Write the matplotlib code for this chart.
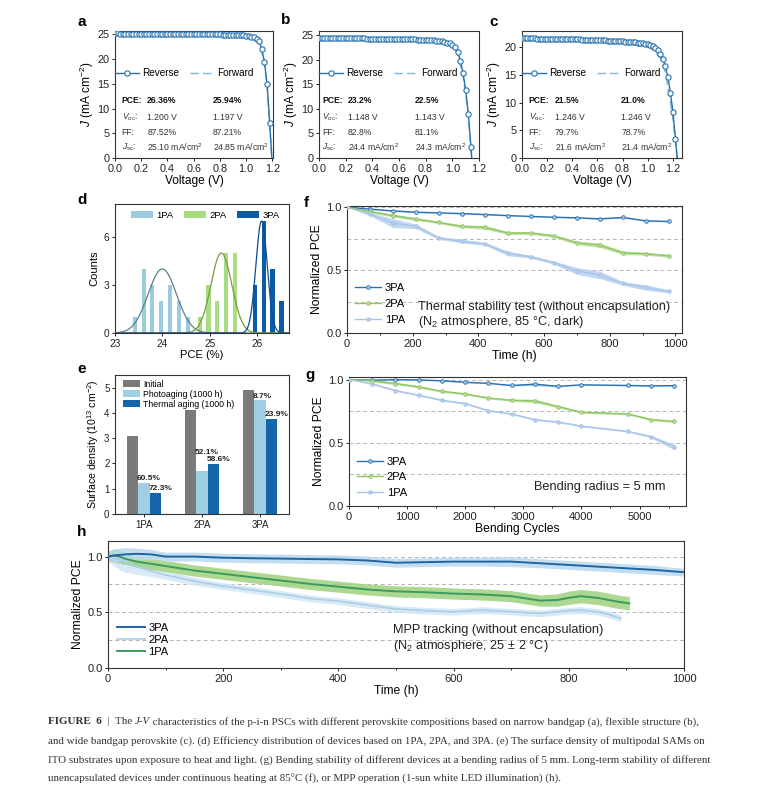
import numpy as np
import matplotlib
matplotlib.use("Agg")
import matplotlib.pyplot as plt
from matplotlib.ticker import AutoMinorLocator

plt.rcParams['font.family'] = ['Liberation Sans', 'DejaVu Sans']
plt.rcParams['mathtext.fontset'] = 'custom'
plt.rcParams['mathtext.rm'] = 'Liberation Sans'
plt.rcParams['mathtext.it'] = 'Liberation Sans:italic'
plt.rcParams['mathtext.bf'] = 'Liberation Sans:bold'
plt.rcParams['axes.linewidth'] = 0.8
plt.rcParams['axes.edgecolor'] = '#333333'

# ---------------- data ----------------
# J-V curves (reverse scans on a 0.02 V grid)
V_a = np.linspace(0, 1.20, 61)
J_a_rev = [25.20, 25.20, 25.19, 25.19, 25.18, 25.18, 25.18, 25.17, 25.17, 25.17, 25.16,
           25.16, 25.16, 25.15, 25.15, 25.15, 25.14, 25.14, 25.14, 25.13, 25.13,
           25.13, 25.12, 25.12, 25.12, 25.11, 25.11, 25.10, 25.10, 25.09, 25.09,
           25.08, 25.08, 25.07, 25.06, 25.05, 25.04, 25.03, 25.02, 25.01, 25.00,
           24.98, 24.97, 24.95, 24.93, 24.91, 24.89, 24.86, 24.83, 24.79, 24.74,
           24.66, 24.55, 24.40, 24.10, 23.60, 22.00, 19.40, 15.00, 7.00, -1.50]
V_a_fwd = [0, 0.2, 0.4, 0.6, 0.8, 0.9, 1.0, 1.04, 1.08, 1.10, 1.12, 1.14, 1.16, 1.18, 1.20]
J_a_fwd = [24.9, 24.88, 24.85, 24.8, 24.7, 24.6, 24.4, 24.1, 23.6, 23.0, 21.4, 18.9, 14.5, 6.5, -2.0]

V_b = np.linspace(0, 1.16, 59)
J_b_rev = [24.45, 24.44, 24.43, 24.42, 24.41, 24.40, 24.39, 24.38, 24.37, 24.36, 24.35,
           24.34, 24.33, 24.32, 24.31, 24.30, 24.29, 24.28, 24.27, 24.26, 24.25,
           24.24, 24.23, 24.22, 24.21, 24.20, 24.19, 24.18, 24.17, 24.16, 24.15,
           24.14, 24.13, 24.12, 24.11, 24.10, 24.08, 24.06, 24.04, 24.02, 24.00,
           23.96, 23.92, 23.88, 23.83, 23.76, 23.68, 23.58, 23.45, 23.28, 23.05,
           22.60, 21.50, 19.80, 17.30, 13.80, 9.00, 2.20, -6.00]
V_b_fwd = [0, 0.2, 0.4, 0.6, 0.8, 0.9, 1.0, 1.04, 1.08, 1.10, 1.12, 1.14, 1.16]
J_b_fwd = [24.3, 24.2, 24.1, 24.0, 23.8, 23.5, 22.8, 21.2, 16.6, 13.0, 8.2, 1.5, -6.0]

V_c = np.linspace(0, 1.24, 63)
J_c_rev = [21.60, 21.59, 21.58, 21.57, 21.56, 21.55, 21.54, 21.53, 21.52, 21.51, 21.50,
           21.49, 21.48, 21.47, 21.46, 21.45, 21.44, 21.43, 21.42, 21.41, 21.40,
           21.39, 21.38, 21.37, 21.36, 21.34, 21.33, 21.31, 21.30, 21.28, 21.26,
           21.24, 21.22, 21.20, 21.18, 21.16, 21.14, 21.12, 21.09, 21.06, 21.03,
           21.00, 20.97, 20.93, 20.89, 20.85, 20.80, 20.75, 20.69, 20.62, 20.55,
           20.40, 20.20, 19.90, 19.40, 18.70, 17.80, 16.50, 14.60, 11.80, 8.30, 3.50, -1.50]
V_c_fwd = [0, 0.2, 0.4, 0.6, 0.8, 0.9, 1.0, 1.05, 1.10, 1.14, 1.18, 1.20, 1.22, 1.24]
J_c_fwd = [21.4, 21.3, 21.2, 21.0, 20.7, 20.4, 20.0, 19.4, 18.0, 15.5, 10.0, 7.0, 3.0, -2.0]

jv_rows = ['PCE:', r'$V_{\mathrm{oc}}$:', 'FF:', r'$J_{\mathrm{sc}}$:']
jv_rev_a = ['26.36%', '1.200 V', '87.52%', r'25.10 mA/cm$^2$']
jv_fwd_a = ['25.94%', '1.197 V', '87.21%', r'24.85 mA/cm$^2$']
jv_rev_b = ['23.2%', '1.148 V', '82.8%', r'24.4 mA/cm$^2$']
jv_fwd_b = ['22.5%', '1.143 V', '81.1%', r'24.3 mA/cm$^2$']
jv_rev_c = ['21.5%', '1.246 V', '79.7%', r'21.6 mA/cm$^2$']
jv_fwd_c = ['21.0%', '1.246 V', '78.7%', r'21.4 mA/cm$^2$']

# (d) PCE histogram
pce_1pa = [23.42, 23.61, 23.79, 23.98, 24.17, 24.36, 24.55]
cnt_1pa = [1, 4, 3, 2, 3, 2, 1]
pce_2pa = [24.79, 24.98, 25.16, 25.35, 25.54]
cnt_2pa = [1, 3, 2, 5, 5]
pce_3pa = [25.96, 26.15, 26.33, 26.52]
cnt_3pa = [3, 7, 4, 2]
# gaussian fits: centre, sigma, peak
fit_1pa = (24.0, 0.30, 4.0)
fit_2pa = (25.25, 0.22, 5.0)
fit_3pa = (26.10, 0.12, 7.0)

# (e) surface density
sam_groups = ['1PA', '2PA', '3PA']
dens_initial = [3.10, 4.12, 4.92]
dens_photo = [1.22, 1.70, 4.50]
dens_thermal = [0.85, 1.97, 3.75]
loss_photo = ['60.5%', '52.1%', '8.7%']
loss_thermal = ['72.3%', '58.6%', '23.9%']

# (f) thermal stability
t_f = [0, 70, 140, 210, 280, 350, 420, 490, 560, 630, 700, 770, 840, 910, 980]
f_3pa = [1.0, 0.985, 0.971, 0.961, 0.955, 0.950, 0.942, 0.934, 0.927, 0.921, 0.916, 0.908, 0.919, 0.892, 0.887]
f_2pa = [1.0, 0.965, 0.934, 0.906, 0.879, 0.848, 0.840, 0.795, 0.795, 0.772, 0.717, 0.698, 0.638, 0.630, 0.614]
f_1pa = [1.0, 0.945, 0.874, 0.848, 0.756, 0.730, 0.709, 0.633, 0.606, 0.559, 0.493, 0.462, 0.394, 0.362, 0.331]
f_3pa_err = [0, 0.004, 0.005, 0.005, 0.004, 0.005, 0.004, 0.005, 0.004, 0.004, 0.005, 0.005, 0.006, 0.005, 0.005]
f_2pa_err = [0, 0.01, 0.012, 0.012, 0.01, 0.012, 0.015, 0.012, 0.012, 0.012, 0.015, 0.018, 0.015, 0.012, 0.012]
f_1pa_err = [0, 0.012, 0.035, 0.018, 0.012, 0.015, 0.012, 0.018, 0.012, 0.012, 0.028, 0.03, 0.015, 0.022, 0.012]

# (g) bending stability
n_g = [0, 400, 800, 1200, 1600, 2000, 2400, 2800, 3200, 3600, 4000, 4800, 5200, 5600]
g_3pa = [1.0, 0.995, 0.999, 0.997, 0.990, 0.978, 0.970, 0.953, 0.963, 0.946, 0.958, 0.953, 0.950, 0.952]
g_2pa = [1.0, 0.990, 0.968, 0.942, 0.907, 0.886, 0.854, 0.836, 0.831, 0.786, 0.741, 0.728, 0.683, 0.669]
g_1pa = [1.0, 0.966, 0.913, 0.876, 0.836, 0.810, 0.754, 0.728, 0.683, 0.664, 0.632, 0.590, 0.548, 0.466]
g_3pa_err = [0, 0.003, 0.003, 0.003, 0.003, 0.004, 0.004, 0.004, 0.012, 0.004, 0.004, 0.004, 0.004, 0.004]
g_2pa_err = [0, 0.008, 0.01, 0.008, 0.008, 0.008, 0.008, 0.008, 0.015, 0.01, 0.008, 0.008, 0.008, 0.01]
g_1pa_err = [0, 0.006, 0.006, 0.006, 0.006, 0.006, 0.006, 0.006, 0.006, 0.006, 0.006, 0.006, 0.01, 0.022]

# (h) MPP tracking (smoothed traces with spread)
t_h3 = [0, 10, 20, 30, 50, 75, 100, 150, 200, 250, 300, 350, 400, 450, 500, 550, 600, 650, 700, 750,
        800, 850, 900, 950, 1000]
h_3pa = [1.0, 1.01, 1.015, 1.02, 1.025, 1.02, 1.0, 1.0, 0.99, 0.985, 0.982, 0.978, 0.975, 0.965, 0.945,
         0.95, 0.955, 0.955, 0.955, 0.94, 0.925, 0.91, 0.895, 0.88, 0.86]
h_3pa_err = [0.05, 0.06, 0.06, 0.06, 0.05, 0.045, 0.04, 0.04, 0.04, 0.04, 0.04, 0.04, 0.04, 0.04, 0.04,
             0.04, 0.04, 0.04, 0.045, 0.04, 0.04, 0.04, 0.04, 0.04, 0.035]
t_h1 = [0, 10, 20, 30, 50, 75, 100, 150, 200, 250, 300, 350, 400, 450, 500, 550, 600, 650, 700, 750,
        780, 800, 820, 850, 880, 905]
h_1pa = [1.0, 1.01, 1.0, 0.98, 0.955, 0.935, 0.915, 0.875, 0.845, 0.815, 0.785, 0.755, 0.73, 0.705, 0.688,
         0.68, 0.668, 0.66, 0.645, 0.605, 0.61, 0.63, 0.645, 0.63, 0.60, 0.58]
h_1pa_err = [0.04, 0.06, 0.06, 0.05, 0.05, 0.05, 0.05, 0.05, 0.05, 0.05, 0.05, 0.05, 0.05, 0.05, 0.05,
             0.05, 0.05, 0.05, 0.05, 0.05, 0.055, 0.06, 0.06, 0.06, 0.06, 0.06]
t_h2 = [0, 10, 20, 30, 50, 75, 100, 150, 200, 250, 300, 350, 400, 450, 500, 550, 600, 650, 700, 750,
        800, 820, 850, 870, 890]
h_2pa = [1.0, 0.99, 0.97, 0.95, 0.91, 0.87, 0.835, 0.78, 0.735, 0.70, 0.665, 0.625, 0.60, 0.565, 0.53,
         0.515, 0.505, 0.52, 0.505, 0.49, 0.515, 0.52, 0.505, 0.48, 0.445]
h_2pa_err = [0.04, 0.07, 0.09, 0.09, 0.07, 0.05, 0.04, 0.035, 0.03, 0.03, 0.03, 0.03, 0.03, 0.03, 0.03,
             0.03, 0.03, 0.03, 0.03, 0.03, 0.03, 0.03, 0.03, 0.03, 0.03]

cap_head = "FIGURE  6"
cap_first = ["  |  The ", "J-V", " characteristics of the p-i-n PSCs with different perovskite compositions based on narrow bandgap (a), flexible structure (b),"]
caption = [
    "and wide bandgap perovskite (c). (d) Efficiency distribution of devices based on 1PA, 2PA, and 3PA. (e) The surface density of multipodal SAMs on",
    "ITO substrates upon exposure to heat and light. (g) Bending stability of different devices at a bending radius of 5 mm. Long-term stability of different",
    "unencapsulated devices under continuous heating at 85\u00b0C (f), or MPP operation (1-sun white LED illumination) (h).",
]

# ---------------- figure ----------------
W, H = 771, 785
fig = plt.figure(figsize=(W / 100, H / 100), dpi=100)


def add_ax(x1, y1, x2, y2):
    return fig.add_axes([x1 / W, 1 - y2 / H, (x2 - x1) / W, (y2 - y1) / H])


def style(ax, size=8):
    ax.tick_params(labelsize=size, length=2.5, width=0.7, pad=1.5, colors='#222222')
    ax.tick_params(which='minor', length=1.5, width=0.6)


def letter(x, y, s):
    fig.text(x / W, 1 - y / H, s, ha='center', va='center', fontsize=11, weight='bold')


blue = '#2672ae'
blue_f = '#7fb3d9'


def jv_panel(ax, V, Jr, Vf, Jf, xmax, ymax, yticks, rev, fwd, xcols):
    ax.plot(Vf, Jf, color=blue_f, lw=1.0, dashes=(6, 3), label='Forward', zorder=2)
    ax.plot(V, Jr, color=blue, lw=1.0, marker='o', ms=3.8, mfc='white', mec=blue, mew=0.8,
            label='Reverse', zorder=3)
    ax.set_xlim(0, xmax)
    ax.set_ylim(0, ymax)
    ax.set_xticks([0, 0.2, 0.4, 0.6, 0.8, 1.0, 1.2])
    ax.set_xticklabels(['0.0', '0.2', '0.4', '0.6', '0.8', '1.0', '1.2'])
    ax.set_yticks(yticks)
    style(ax, 7.8)
    ax.set_xlabel('Voltage (V)', fontsize=8.6, labelpad=1)
    ax.set_ylabel(r'$J$ (mA cm$^{-2}$)', fontsize=8.6, labelpad=1)
    h, l = ax.get_legend_handles_labels()
    ax.legend([h[1], h[0]], [l[1], l[0]], loc='center left', bbox_to_anchor=(0.0, 0.668), ncol=2,
              frameon=False, fontsize=7.2, handlelength=2.4, handletextpad=0.3, columnspacing=1.1,
              borderpad=0, borderaxespad=0)
    ys = [0.45, 0.32, 0.2, 0.084]
    for i, row in enumerate(jv_rows):
        wt = 'bold' if i == 0 else 'normal'
        col = '#111111' if i == 0 else '#333333'
        ax.text(xcols[0], ys[i], row, transform=ax.transAxes, fontsize=6.2, weight=wt, color=col, va='center')
        ax.text(xcols[1], ys[i], rev[i], transform=ax.transAxes, fontsize=6.2, weight=wt, color=col, va='center')
        ax.text(xcols[2], ys[i], fwd[i], transform=ax.transAxes, fontsize=6.2, weight=wt, color=col, va='center')


ax_a = add_ax(115, 31, 273, 158)
jv_panel(ax_a, V_a, J_a_rev, V_a_fwd, J_a_fwd, 1.205, 25.7, [0, 5, 10, 15, 20, 25],
         jv_rev_a, jv_fwd_a, (0.042, 0.204, 0.62))
ax_b = add_ax(319, 31, 479, 158)
jv_panel(ax_b, V_b, J_b_rev, V_b_fwd, J_b_fwd, 1.2, 25.8, [0, 5, 10, 15, 20, 25],
         jv_rev_b, jv_fwd_b, (0.02, 0.18, 0.6))
ax_c = add_ax(522, 31, 682, 158)
jv_panel(ax_c, V_c, J_c_rev, V_c_fwd, J_c_fwd, 1.272, 22.9, [0, 5, 10, 15, 20],
         jv_rev_c, jv_fwd_c, (0.042, 0.204, 0.62))
letter(82, 22, 'a')
letter(286, 20, 'b')
letter(494, 22, 'c')

# ---- d ----
ax_d = add_ax(115, 204, 289, 333)
c1, c2, c3 = '#9ccbe0', '#a8dc80', '#0c5ba2'
ax_d.bar(pce_1pa, cnt_1pa, width=0.09, color=c1, label='1PA')
ax_d.bar(pce_2pa, cnt_2pa, width=0.09, color=c2, label='2PA')
ax_d.bar(pce_3pa, cnt_3pa, width=0.09, color=c3, label='3PA')
xs = np.linspace(23, 26.7, 500)
for (mu, sd, pk), col in zip([fit_1pa, fit_2pa, fit_3pa], ['#5f8088', '#789a45', '#0b4f8f']):
    ax_d.plot(xs, pk * np.exp(-0.5 * ((xs - mu) / sd) ** 2), color=col, lw=0.9)
ax_d.set_xlim(23, 26.68)
ax_d.set_ylim(0, 8.06)
ax_d.set_xticks([23, 24, 25, 26])
ax_d.set_yticks([0, 3, 6])
style(ax_d, 7.3)
ax_d.set_xlabel('PCE (%)', fontsize=8, labelpad=1)
ax_d.set_ylabel('Counts', fontsize=8, labelpad=3)
ax_d.legend(loc='upper left', bbox_to_anchor=(0.055, 1.0), ncol=3, frameon=False, fontsize=6.8,
            handlelength=2.3, handleheight=0.9, handletextpad=0.4, columnspacing=1.1, borderaxespad=0.3)
letter(82, 200, 'd')

# ---- e ----
ax_e = add_ax(115, 375, 289, 514)
xg = np.arange(len(sam_groups)) + 1
bw = 0.2
ax_e.bar(xg - bw, dens_initial, width=bw, color='#7a7a7a', label='Initial')
ax_e.bar(xg, dens_photo, width=bw, color='#a0cfe4', label='Photoaging (1000 h)')
ax_e.bar(xg + bw, dens_thermal, width=bw, color='#1465aa', label='Thermal aging (1000 h)')
for i in range(len(sam_groups)):
    y_ph = max(dens_photo[i], dens_thermal[i] + 0.3)
    ax_e.text(xg[i] - bw / 2 - 0.02, y_ph + 0.03, loss_photo[i], fontsize=6, weight='bold',
              color='#222222', ha='left', va='bottom')
    ax_e.text(xg[i] + bw / 2 - 0.02, dens_thermal[i] + 0.03, loss_thermal[i], fontsize=6, weight='bold',
              color='#222222', ha='left', va='bottom')
ax_e.set_xlim(0.5, 3.5)
ax_e.set_ylim(0, 5.5)
ax_e.set_xticks(xg)
ax_e.set_xticklabels(sam_groups)
ax_e.set_yticks([0, 1, 2, 3, 4, 5])
style(ax_e, 7)
ax_e.set_ylabel(r'Surface density (10$^{13}$ cm$^{-2}$)', fontsize=7.6, labelpad=2)
ax_e.legend(loc='upper left', bbox_to_anchor=(0.02, 1.0), frameon=False, fontsize=6.3,
            handlelength=1.9, handleheight=0.85, handletextpad=0.4, labelspacing=0.1, borderaxespad=0.15)
letter(82, 369, 'e')

# ---- f, g common ----
col3, col2, col1 = '#2a6fae', '#8fc663', '#a8c5e8'
band3, band2, band1 = '#a9cdea', '#b7dd98', '#b4cdef'


def grid_lines(ax):
    for yv in [0.25, 0.5, 0.75, 1.0]:
        ax.axhline(yv, color='#b5b5b5', lw=0.7, dashes=(4, 3), zorder=0)


def stab(ax, x, ys, errs):
    for y, e, col, bc, lab in zip(ys, errs, [col3, col2, col1], [band3, band2, band1], ['3PA', '2PA', '1PA']):
        y = np.array(y)
        e = np.array(e)
        ax.fill_between(x, y - e, y + e, color=bc, alpha=0.8, lw=0, zorder=1)
        ax.plot(x, y, color=col, lw=1.0, marker='o', ms=2.6, mfc=bc, mec=col, mew=0.6, label=lab, zorder=3)


ax_f = add_ax(347, 206, 682, 333)
grid_lines(ax_f)
stab(ax_f, t_f, [f_3pa, f_2pa, f_1pa], [f_3pa_err, f_2pa_err, f_1pa_err])
ax_f.set_xlim(0, 1020)
ax_f.set_ylim(0, 1.01)
ax_f.set_xticks([0, 200, 400, 600, 800, 1000])
ax_f.set_yticks([0, 0.5, 1.0])
ax_f.xaxis.set_minor_locator(AutoMinorLocator(2))
style(ax_f, 8)
ax_f.set_xlabel('Time (h)', fontsize=8.7, labelpad=1)
ax_f.set_ylabel('Normalized PCE', fontsize=8.7, labelpad=2)
ax_f.legend(loc='lower left', bbox_to_anchor=(0.01, 0.03), frameon=False, fontsize=8, handlelength=2.4,
            handletextpad=0.3, labelspacing=0.55, borderaxespad=0)
ax_f.text(216, 0.02, 'Thermal stability test (without encapsulation)\n(N$_2$ atmosphere, 85 \u00b0C, dark)',
          fontsize=9.2, ha='left', va='bottom', linespacing=1.15, color='#222222')
letter(306, 203, 'f')

ax_g = add_ax(349, 377, 686, 506)
grid_lines(ax_g)
stab(ax_g, n_g, [g_3pa, g_2pa, g_1pa], [g_3pa_err, g_2pa_err, g_1pa_err])
ax_g.set_xlim(0, 5800)
ax_g.set_ylim(0, 1.02)
ax_g.set_xticks([0, 1000, 2000, 3000, 4000, 5000])
ax_g.set_yticks([0, 0.5, 1.0])
ax_g.xaxis.set_minor_locator(AutoMinorLocator(2))
style(ax_g, 8)
ax_g.set_xlabel('Bending Cycles', fontsize=8.7, labelpad=1)
ax_g.set_ylabel('Normalized PCE', fontsize=8.7, labelpad=2)
ax_g.legend(loc='lower left', bbox_to_anchor=(0.01, 0.03), frameon=False, fontsize=8, handlelength=2.4,
            handletextpad=0.3, labelspacing=0.5, borderaxespad=0)
ax_g.text(3190, 0.148, 'Bending radius = 5 mm', fontsize=9.2, ha='left', va='center', color='#222222')
letter(310, 375, 'g')

# ---- h ----
ax_h = add_ax(108, 541, 684, 668)
grid_lines(ax_h)
for t, y, e, col, bc, lw, lab in [
        (t_h2, h_2pa, h_2pa_err, '#a9cfe8', '#d3e6f4', 1.2, '2PA'),
        (t_h1, h_1pa, h_1pa_err, '#3c9a5f', '#9fd27f', 1.4, '1PA'),
        (t_h3, h_3pa, h_3pa_err, '#1f65a0', '#b9d9f0', 1.4, '3PA')]:
    y = np.array(y)
    e = np.array(e)
    ax_h.fill_between(t, y - e, y + e, color=bc, alpha=0.85, lw=0, zorder=1)
    ax_h.plot(t, y, color=col, lw=lw, label=lab, zorder=3)
ax_h.set_xlim(0, 1000)
ax_h.set_ylim(0, 1.14)
ax_h.set_xticks([0, 200, 400, 600, 800, 1000])
ax_h.set_yticks([0, 0.5, 1.0])
ax_h.xaxis.set_minor_locator(AutoMinorLocator(2))
style(ax_h, 8)
ax_h.set_xlabel('Time (h)', fontsize=8.7, labelpad=1)
ax_h.set_ylabel('Normalized PCE', fontsize=8.7, labelpad=2)
hh, ll = ax_h.get_legend_handles_labels()
order = [ll.index('3PA'), ll.index('2PA'), ll.index('1PA')]
ax_h.legend([hh[i] for i in order], [ll[i] for i in order], loc='lower left', bbox_to_anchor=(0.008, 0.05),
            frameon=False, fontsize=8, handlelength=2.5, handletextpad=0.3, labelspacing=0.2, borderaxespad=0)
ax_h.text(495, 0.13, 'MPP tracking (without encapsulation)\n(N$_2$ atmosphere, 25 $\\pm$ 2 \u00b0C)',
          fontsize=9.2, ha='left', va='bottom', linespacing=1.15, color='#222222')
letter(82, 532, 'h')

# ---- caption ----
renderer = fig.canvas.get_renderer()
fam = ['Liberation Serif', 'DejaVu Serif']
x_left, target = 48, 672
cap_y = [722, 741, 760, 779]

# one size so that the widest full line fills the text block
probe = []
base = 8.0
for s in caption[:2]:
    t = fig.text(0, 0, s, fontsize=base, family=fam)
    probe.append(t.get_window_extent(renderer).width)
    t.remove()
cap_size = 0.975 * base * target / max(probe)

# first line: bold head, italic J-V, plain rest
x = x_left
pieces = [(cap_head, 'bold', 'normal'), (cap_first[0], 'normal', 'normal'),
          (cap_first[1], 'normal', 'italic'), (cap_first[2], 'normal', 'normal')]
for txt, wt, st in pieces:
    t = fig.text(x / W, 1 - cap_y[0] / H, txt, fontsize=cap_size, family=fam, weight=wt, style=st,
                 color='#333333', va='center')
    x += t.get_window_extent(renderer).width
for li, s in enumerate(caption):
    fig.text(x_left / W, 1 - cap_y[li + 1] / H, s, fontsize=cap_size, family=fam, color='#333333', va='center')

fig.savefig('out.png', dpi=100)
